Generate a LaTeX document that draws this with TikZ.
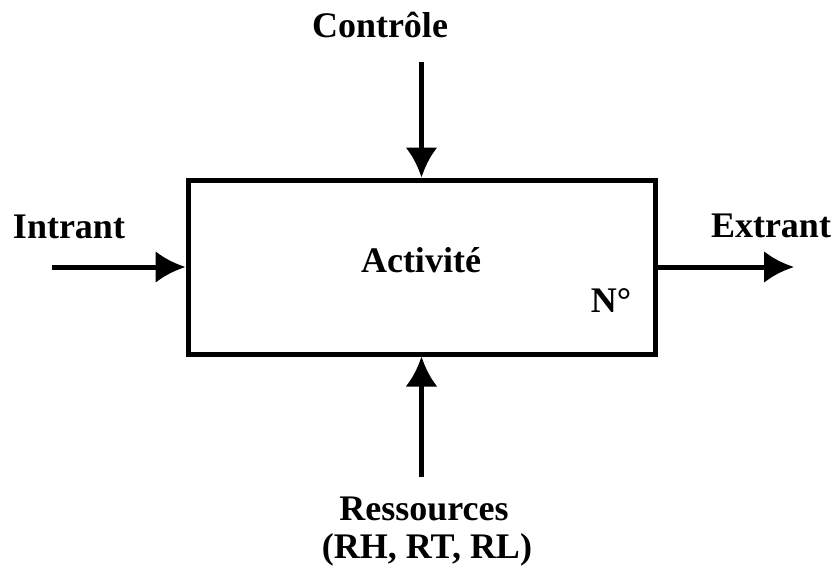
\documentclass[tikz,border=0pt]{standalone}
\usepackage{fontspec}
\setmainfont{Liberation Serif}
\usetikzlibrary{arrows.meta,positioning}

\begin{document}
\begin{tikzpicture}[x=0.5pt,y=-0.5pt,>={Latex[length=15pt,width=16pt]},line cap=butt,
  flow/.style={->,line width=2.5pt},
  lbl/.style={font=\bfseries\fontsize{18}{22}\selectfont,anchor=base,inner sep=0pt}]
\useasboundingbox (0,0) rectangle (836,568);
% ---------- activity box ----------
\node[draw,line width=2.5pt,minimum width=233.5pt,minimum height=87pt,inner sep=0pt] (act) at (421.5,267) {};
\node[lbl] (name) at (421,272) {Activité};
\node[lbl] (num) at (611,312) {N°};
% ---------- control (top) ----------
\node[lbl] (ctrl) at (380,37) {Contrôle};
\coordinate (ctrlstart) at (421.5,62);
\draw[flow] (ctrlstart) -- (act.north);
% ---------- input (left) ----------
\node[lbl] (inp) at (69,238) {Intrant};
\coordinate (inpstart) at (52,267);
\draw[flow] (inpstart) -- (act.west);
% ---------- output (right) ----------
\node[lbl] (outp) at (771,237) {Extrant};
\coordinate (outpend) at (794,267);
\draw[flow] (act.east) -- (outpend);
% ---------- resources (bottom) ----------
\coordinate (resstart) at (421.5,477);
\draw[flow] (resstart) -- (act.south);
\node[lbl] (res) at (424,520) {Ressources};
\node[lbl] (reslist) at (427,558) {(RH, RT, RL)};
\end{tikzpicture}
\end{document}
